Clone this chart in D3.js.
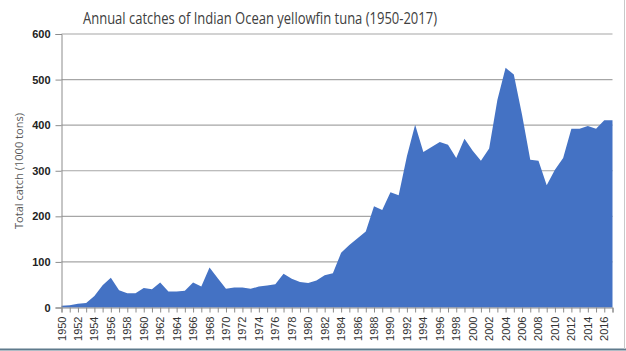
<!DOCTYPE html>
<html><head><meta charset="utf-8">
<script src="https://cdn.jsdelivr.net/npm/d3@7"></script>
<style>body{margin:0;background:#fff}svg{display:block}</style>
</head><body>
<svg id="c" width="626" height="351"></svg>
<script>
const years = d3.range(1950, 2018);
const catches = [4,5,8,10,25,49,65,38,31,31,43,40,55,35,35,37,55,46,88,64,
  41,44,44,41,46,48,51,74,63,56,54,59,71,75,120,137,152,167,222,214,
  253,246,332,401,341,352,363,357,328,370,344,322,349,455,526,511,423,324,322,268,
  302,328,392,392,398,392,411,411];
const yTicks = [0,100,200,300,400,500,600];
const xLabelYears = d3.range(1950, 2017, 2);
const title = "Annual catches of Indian Ocean yellowfin tuna (1950-2017)";
const yTitle = "Total catch (1000 tons)";

const svg = d3.select("#c");
const L = 61.5, R = 612.5, T = 34, B = 307.5;
const x = d3.scaleLinear().domain([1950, 2017]).range([L, R]);
const y = d3.scaleLinear().domain([0, 600]).range([B, T]);

// border lines
svg.append("line").attr("x1",0).attr("x2",626).attr("y1",349.5).attr("y2",349.5).attr("stroke","#5f7a8c").attr("stroke-width",2);
svg.append("line").attr("x1",624.5).attr("x2",624.5).attr("y1",0).attr("y2",349).attr("stroke","#c8c8c8");

// gridlines
svg.append("g").selectAll("line").data(yTicks.filter(d=>d>0)).join("line")
  .attr("x1", L).attr("x2", R).attr("y1", d=>y(d)).attr("y2", d=>y(d))
  .attr("stroke", "#a6a6a6").attr("stroke-width", 1.2);

// area
const area = d3.area().x((d,i)=>x(years[i])).y0(y(0)).y1(d=>y(d));
svg.append("path").datum(catches).attr("d", area).attr("fill", "#4472C4");

// y axis
const ya = svg.append("g").attr("transform", `translate(${L},0)`)
  .call(d3.axisLeft(y).tickValues(yTicks).tickSize(6).tickPadding(5));
ya.select(".domain").attr("stroke", "#8c8c8c");
ya.selectAll(".tick line").attr("stroke", "#8c8c8c");
ya.selectAll("text").attr("font-family","Liberation Sans, Arial, sans-serif")
  .attr("font-size", 11).attr("font-weight","bold").attr("fill","#222");

// x axis
const xa = svg.append("g").attr("transform", `translate(0,${B})`)
  .call(d3.axisBottom(x).tickValues(years).tickSize(5).tickFormat(""));
xa.select(".domain").attr("stroke", "#8c8c8c");
xa.selectAll(".tick line").attr("stroke", "#8c8c8c");
svg.append("g").selectAll("text").data(xLabelYears).join("text")
  .attr("transform", d=>`translate(${x(d)+4},${B+9}) rotate(-90)`)
  .attr("text-anchor","end")
  .attr("font-family","Liberation Sans, Arial, sans-serif")
  .attr("font-size", 11).attr("fill","#333")
  .text(d=>d);

// titles
svg.append("text").attr("x", 260).attr("y", 24).attr("text-anchor","middle")
  .attr("font-family","Open Sans, Liberation Sans, sans-serif").attr("font-size", 16)
  .attr("fill","#404040").attr("textLength", 354).attr("lengthAdjust","spacingAndGlyphs")
  .text(title);
svg.append("text").attr("transform","translate(23,171) rotate(-90)").attr("text-anchor","middle")
  .attr("font-family","Open Sans, Liberation Sans, sans-serif").attr("font-size", 11)
  .attr("fill","#595959").attr("textLength", 116).attr("lengthAdjust","spacingAndGlyphs")
  .text(yTitle);
</script>
</body></html>
